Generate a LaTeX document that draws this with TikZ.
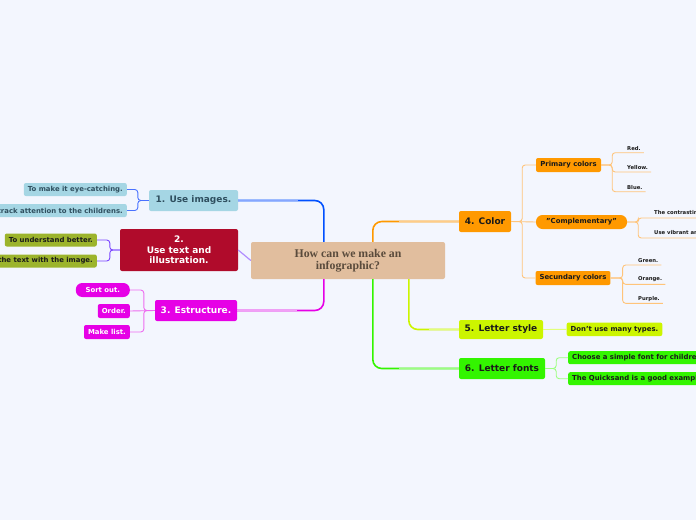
\documentclass[tikz,border=0pt]{standalone}
\usepackage{fontspec}
\setmainfont{DejaVu Sans}
\newfontfamily\cserif{Liberation Serif}
\definecolor{bg}{HTML}{F3F6FE}
\definecolor{cfill}{HTML}{E1BE9E}
\definecolor{ctext}{HTML}{5A4B3C}
\definecolor{imgfill}{HTML}{A5D6E4}
\definecolor{imgtext}{HTML}{2F4F5F}
\definecolor{blueS}{HTML}{0050FF}
\definecolor{blueL}{HTML}{86A6FF}
\definecolor{blueB}{HTML}{4A72FF}
\definecolor{redfill}{HTML}{B00B2B}
\definecolor{purpL}{HTML}{B08CFF}
\definecolor{purpB}{HTML}{7A45FF}
\definecolor{olive}{HTML}{9CB42C}
\definecolor{mag}{HTML}{E600E6}
\definecolor{magL}{HTML}{F2A0F6}
\definecolor{magB}{HTML}{EE6CF0}
\definecolor{orS}{HTML}{FF9900}
\definecolor{orL}{HTML}{FFCC88}
\definecolor{orB}{HTML}{FFC47A}
\definecolor{yel}{HTML}{CCF500}
\definecolor{yelL}{HTML}{E2FF7A}
\definecolor{grn}{HTML}{33F500}
\definecolor{grnL}{HTML}{9CFF80}
\definecolor{dark}{HTML}{1A1A1A}
\tikzset{
  mainbox/.style={rounded corners=2pt, inner sep=0pt, align=center, font=\bfseries\fontsize{9}{10.5}\selectfont},
  subbox/.style={rounded corners=2pt, inner xsep=4pt, inner ysep=0pt, minimum height=13pt, font=\bfseries\fontsize{6.9}{7.5}\selectfont},
  pill/.style={subbox, rounded corners=6.5pt},
  plainleaf/.style={inner xsep=3pt, inner ysep=2pt, text=dark, font=\bfseries\fontsize{5.3}{6}\selectfont},
  conn/.style={line width=1.6pt, rounded corners=9pt},
  lightconn/.style={line width=1pt},
  brk/.style={line width=0.9pt, rounded corners=3pt},
}
\begin{document}
\begin{tikzpicture}[x=1pt,y=-1pt]
\fill[bg] (0,0) rectangle (696,520);
\useasboundingbox (0,0) rectangle (696,520);
\clip (0,0) rectangle (696,520);

% central
\node[mainbox, fill=cfill, text=ctext, minimum width=194pt, minimum height=37pt,
  font=\cserif\bfseries\fontsize{11.8}{12.2}\selectfont] (c) at (348,260.5) {How can we make an\\infographic?};

% left main branches
\node[mainbox, fill=imgfill, text=imgtext, minimum width=89pt, minimum height=21pt] (img) at (193.5,200.5) {1. Use images.};
\node[mainbox, fill=redfill, text=white, minimum width=118pt, minimum height=42pt] (txt) at (179,250) {2.\\Use text and\\ illustration.};
\node[mainbox, fill=mag, text=white, minimum width=82pt, minimum height=21pt] (est) at (196,310.5) {3. Estructure.};

% left leaves
\node[subbox, fill=imgfill, text=imgtext, anchor=east] (i1) at (127,189.5) {To make it eye-catching.};
\node[subbox, fill=imgfill, text=imgtext, anchor=east] (i2) at (127,210.5) {Attrack attention to the childrens.};
\node[subbox, fill=olive, text=dark, anchor=east] (t1) at (97,240) {To understand better.};
\node[subbox, fill=olive, text=dark, anchor=east] (t2) at (97,261) {Relate the text with the image.};
\node[pill, fill=mag, text=white, anchor=east, minimum width=54pt, minimum height=14pt] (e1) at (130,290) {Sort out.};
\node[subbox, fill=mag, text=white, anchor=east, minimum height=14pt] (e2) at (130,311) {Order.};
\node[subbox, fill=mag, text=white, anchor=east, minimum height=14pt] (e3) at (130,332) {Make list.};

% right main branches
\node[mainbox, fill=orS, text=dark, minimum width=52pt, minimum height=21pt] (col) at (485,221.5) {4. Color};
\node[mainbox, fill=yel, text=dark, minimum width=84pt, minimum height=19pt] (ls) at (501,329.5) {5. Letter style};
\node[mainbox, fill=grn, text=dark, minimum width=86pt, minimum height=21pt] (lf) at (502,368.5) {6. Letter fonts};

% color sub
\node[subbox, fill=orS, text=dark, minimum width=65pt, minimum height=14pt] (pc) at (568.5,165) {Primary colors};
\node[pill, fill=orS, text=dark, minimum width=91pt, minimum height=14pt] (cp) at (581.5,222) {"Complementary"};
\node[subbox, fill=orS, text=dark, minimum width=74pt, minimum height=14pt] (sc) at (573,278) {Secundary colors};

% color leaves (underlined)
\node[plainleaf, anchor=south west] (r1) at (624,152.7) {Red.};
\node[plainleaf, anchor=south west] (r2) at (624,172) {Yellow.};
\node[plainleaf, anchor=south west] (r3) at (624,191.7) {Blue.};
\node[plainleaf, anchor=south west] (k1) at (651,218) {The contrasting of colors.};
\node[plainleaf, anchor=south west] (k2) at (651,238) {Use vibrant and bright colors.};
\node[plainleaf, anchor=south west] (s1) at (635,265) {Green.};
\node[plainleaf, anchor=south west] (s2) at (635,284.3) {Orange.};
\node[plainleaf, anchor=south west] (s3) at (635,303.3) {Purple.};

% letter leaves
\node[subbox, fill=yel, text=dark, minimum width=95pt, minimum height=13.5pt] (d1) at (614.5,329.3) {Don't use many types.};
\node[subbox, fill=grn, text=dark, anchor=west] (f1) at (568,357.7) {Choose a simple font for children.};
\node[subbox, fill=grn, text=dark, anchor=west] (f2) at (568,378.7) {The Quicksand is a good example.};

% central connectors
\draw[conn, blueS] ([xshift=73pt]c.north west) |- (img.east);
\draw[lightconn, blueL] ([xshift=60pt]img.east) -- (img.east);
\draw[line width=1.2pt, purpL] (c.west) -- (txt.east);
\draw[conn, mag] ([xshift=73pt]c.south west) |- (est.east);
\draw[lightconn, magL] ([xshift=60pt]est.east) -- (est.east);
\draw[conn, orS] ([xshift=122pt]c.north west) |- (col.west);
\draw[lightconn, orL] ([xshift=-60pt]col.west) -- (col.west);
\draw[conn, yel] ([xshift=158pt]c.south west) |- (ls.west);
\draw[lightconn, yelL] ([xshift=-30pt]ls.west) -- (ls.west);
\draw[conn, grn] ([xshift=122pt]c.south west) |- (lf.west);
\draw[lightconn, grnL] ([xshift=-60pt]lf.west) -- (lf.west);

% brackets left
\draw[brk, blueB] (img.west) -- ++(-11,0) |- (i1.east);
\draw[brk, blueB] (img.west) -- ++(-11,0) |- (i2.east);
\draw[brk, purpB] (txt.west) -- ++(-10,0) |- (t1.east);
\draw[brk, purpB] (txt.west) -- ++(-10,0) |- (t2.east);
\draw[brk, magB] (est.west) -- ++(-11,0) |- (e1.east);
\draw[brk, magB] (est.west) -- (e2.east);
\draw[brk, magB] (est.west) -- ++(-11,0) |- (e3.east);

% brackets right
\draw[brk, orB] (col.east) -- ++(11,0) |- (pc.west);
\draw[brk, orB] (col.east) -- (cp.west);
\draw[brk, orB] (col.east) -- ++(11,0) |- (sc.west);
\draw[brk, orB] (pc.east) -- ++(11,0) |- (r1.south east);
\draw[brk, orB] (pc.east) -- ++(11,0) |- (r2.south east);
\draw[brk, orB] (pc.east) -- ++(11,0) |- (r3.south east);
\draw[brk, orB] (cp.east) -- ++(11,0) |- (k1.south east);
\draw[brk, orB] (cp.east) -- ++(11,0) |- (k2.south east);
\draw[brk, orB] (sc.east) -- ++(12,0) |- (s1.south east);
\draw[brk, orB] (sc.east) -- ++(12,0) |- (s2.south east);
\draw[brk, orB] (sc.east) -- ++(12,0) |- (s3.south east);
\draw[brk, yelL] (ls.east) -- (d1.west);
\draw[brk, grnL] (lf.east) -- ++(11,0) |- (f1.west);
\draw[brk, grnL] (lf.east) -- ++(11,0) |- (f2.west);
\end{tikzpicture}
\end{document}
